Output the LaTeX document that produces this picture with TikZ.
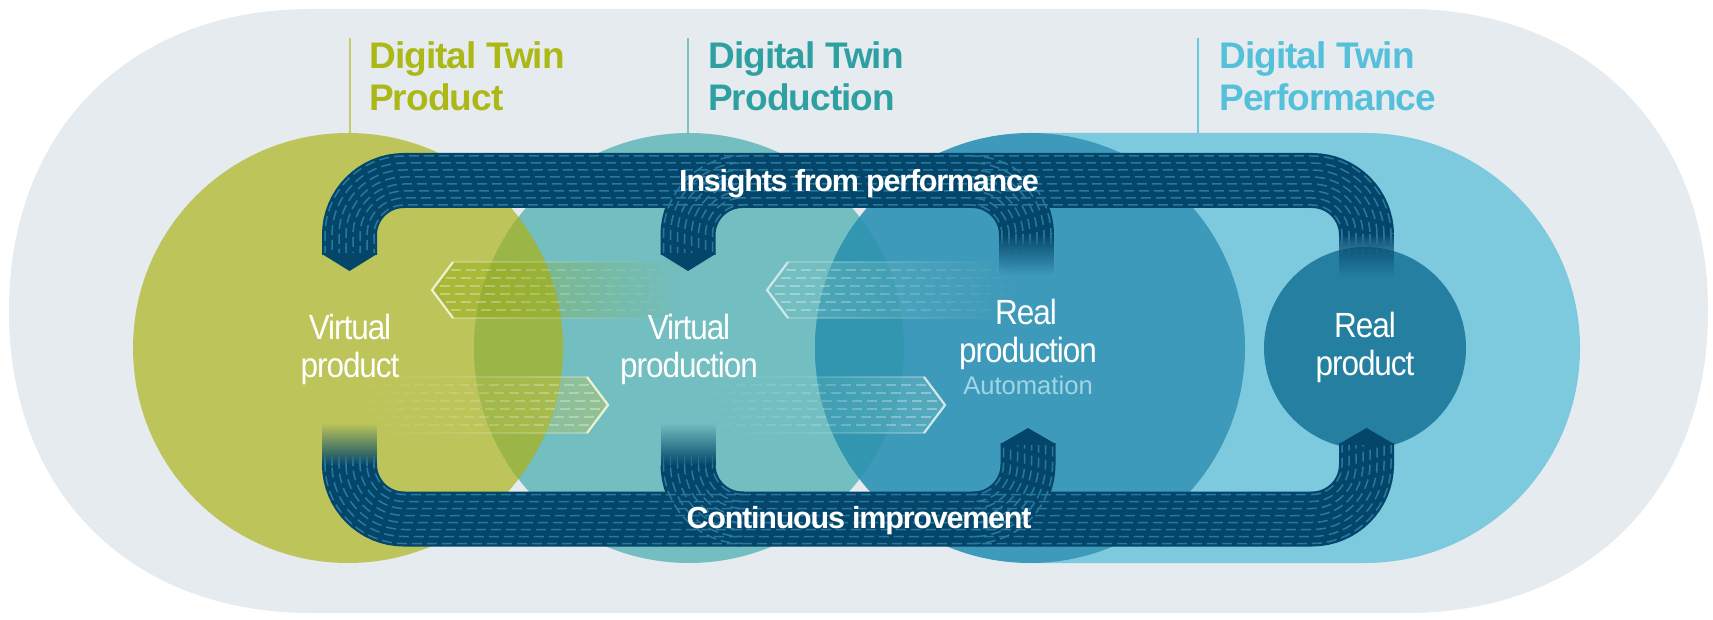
\documentclass[tikz,border=0pt]{standalone}
\usepackage{fontspec}
\setmainfont{Liberation Sans}
\newfontfamily\dtlabelfont{Liberation Sans}[FakeStretch=0.9,LetterSpace=-3]
\newfontfamily\dtautofont{Liberation Sans}
\newfontfamily\dtboldfont{Liberation Sans}[LetterSpace=-4]
\newfontfamily\dttitlefont{Liberation Sans}[LetterSpace=-2.5]
\usetikzlibrary{fadings}
\definecolor{dtbg}{HTML}{E6EBEF}
\definecolor{dtgreen}{HTML}{BDC55A}
\definecolor{dtteal}{HTML}{72BEC0}
\definecolor{dtblue}{HTML}{3E9ABA}
\definecolor{dtlight}{HTML}{7DCADF}
\definecolor{dtreal}{HTML}{257FA1}
\definecolor{dtgt}{HTML}{9BB547}
\definecolor{dttb}{HTML}{3396B0}
\definecolor{dtnavy}{HTML}{04466A}
\definecolor{dtdash}{HTML}{2878A0}
\definecolor{dtprod}{HTML}{ACB816}
\definecolor{dtprodn}{HTML}{2FA0A2}
\definecolor{dtperf}{HTML}{55C0DA}
\definecolor{dtauto}{HTML}{A0D5E5}
\definecolor{dtgreenline}{HTML}{C6CC6B}
\definecolor{dttealline}{HTML}{7CC2C4}
\definecolor{dtperfline}{HTML}{6CC8DD}
\definecolor{dtolive}{HTML}{93AA10}
\tikzfading[name=dtfadeL, left color=transparent!0, right color=transparent!100]
\tikzfading[name=dtfadeR, left color=transparent!100, right color=transparent!0]
\tikzfading[name=dtfadeT, top color=transparent!100, bottom color=transparent!0]
\tikzfading[name=dtfadeB, top color=transparent!0, bottom color=transparent!100]
% left-pointing translucent arrow: tip x, centre y, fill, opacity, outline colour
\newcommand\dtLArrow[5]{%
  \fill[#3, fill opacity=#4, path fading=dtfadeL] (#1,#2) -- ({#1+20},{#2+28}) -- ({#1+250},{#2+28}) -- ({#1+250},{#2-28}) -- ({#1+20},{#2-28}) -- cycle;
  \draw[white, draw opacity=0.35, line width=1.4pt, dash pattern=on 10pt off 5pt, path fading=dtfadeL]
    foreach \o in {-20,-12,-4,4,12,20}{({#1+abs(\o)*0.714+5},{#2+\o}) -- ({#1+250},{#2+\o})};
  \draw[#5, draw opacity=0.35, line width=1.6pt, path fading=dtfadeL] ({#1+20},{#2+28}) -- ({#1+230},{#2+28}) ({#1+20},{#2-28}) -- ({#1+230},{#2-28});
  \draw[#5, line width=2.2pt, line join=miter] ({#1+21},{#2+28}) -- (#1,#2) -- ({#1+21},{#2-28});
}
% right-pointing translucent arrow
\newcommand\dtRArrow[5]{%
  \fill[#3, fill opacity=#4, path fading=dtfadeR] (#1,#2) -- ({#1-20},{#2+28}) -- ({#1-250},{#2+28}) -- ({#1-250},{#2-28}) -- ({#1-20},{#2-28}) -- cycle;
  \draw[white, draw opacity=0.35, line width=1.4pt, dash pattern=on 10pt off 5pt, path fading=dtfadeR]
    foreach \o in {-20,-12,-4,4,12,20}{({#1-abs(\o)*0.714-5},{#2+\o}) -- ({#1-250},{#2+\o})};
  \draw[#5, draw opacity=0.35, line width=1.6pt, path fading=dtfadeR] ({#1-20},{#2+28}) -- ({#1-230},{#2+28}) ({#1-20},{#2-28}) -- ({#1-230},{#2-28});
  \draw[#5, line width=2.2pt, line join=miter] ({#1-21},{#2+28}) -- (#1,#2) -- ({#1-21},{#2-28});
}
\begin{document}
\begin{tikzpicture}[x=1pt,y=1pt,
  dtband/.style={draw=dtnavy, line width=55pt},
  dtrow/.style={draw=dtdash, line width=1.5pt, dash pattern=on 10pt off 5pt},
  dtlab/.style={text=white, font=\dtlabelfont\fontsize{35}{38}\selectfont, anchor=base, inner sep=0pt},
  dtbt/.style={text=white, font=\dtboldfont\bfseries\fontsize{30.5}{33}\selectfont, anchor=base, inner sep=0pt},
  dttitle/.style={font=\dttitlefont\bfseries\fontsize{37}{42}\selectfont, anchor=base west, inner sep=0pt}]
\useasboundingbox (0,0) rectangle (1713,619);
\fill[white] (0,0) rectangle (1713,619);
% background stadium (slightly squarish ends)
\fill[dtbg] (311,6) -- (1406,6) .. controls (1587,6) and (1708,127) .. (1708,308) .. controls (1708,489) and (1587,610) .. (1406,610) -- (311,610) .. controls (130,610) and (9,489) .. (9,308) .. controls (9,127) and (130,6) .. (311,6) -- cycle;
% title rules
\draw[line width=2.5pt, dtgreenline] (350,581) -- (350,470);
\draw[line width=2.5pt, dttealline] (688,581) -- (688,470);
\draw[line width=2.5pt, dtperfline] (1198,581) -- (1198,470);
% performance stadium
\fill[dtlight] (1030,56) -- (1365,56) arc[start angle=-90, end angle=90, radius=215] -- (1030,486) -- cycle;
% circles
\fill[dtgreen] (348,271) circle[radius=215];
\fill[dtteal] (689,271) circle[radius=215];
\fill[dtblue] (1030,271) circle[radius=215];
\begin{scope}
  \clip (348,271) circle[radius=215];
  \fill[dtgt] (689,271) circle[radius=215];
\end{scope}
\begin{scope}
  \clip (689,271) circle[radius=215];
  \fill[dttb] (1030,271) circle[radius=215];
\end{scope}
\fill[dtreal] (1365,271) circle[radius=101];
% titles
\node[dttitle, text=dtprod] (t1a) at (369,550.7) {Digital Twin};
\node[dttitle, text=dtprod] (t1b) at (369,508.3) {Product};
\node[dttitle, text=dtprodn] (t2a) at (708,550.7) {Digital Twin};
\node[dttitle, text=dtprodn] (t2b) at (708,508.3) {Production};
\node[dttitle, text=dtperf] (t3a) at (1219,550.7) {Digital Twin};
\node[dttitle, text=dtperf] (t3b) at (1219,508.3) {Performance};
% translucent arrows
\dtLArrow{432}{329}{dtolive}{0.5}{dtgreen!25!white}
\dtLArrow{767}{329}{dtteal}{0.5}{dtteal!35!white}
\dtRArrow{608}{214}{dtgreen}{0.45}{dtgreen!25!white}
\dtRArrow{945}{214}{dtteal}{0.45}{dtteal!35!white}
% ---- top band: insights from performance ----
\draw[dtband] (349.5,364) -- (349.5,384) arc[start angle=180, end angle=90, radius=54.5] -- (1312,438.5) arc[start angle=90, end angle=0, radius=54.5] -- (1366.5,384);
\fill[dtnavy] (322,365) -- (377,365) -- (349.5,348) -- cycle;
\draw[dtband] (742.5,438.5) arc[start angle=90, end angle=180, radius=54.5] -- (688,364);
\fill[dtnavy] (660.5,365) -- (715.5,365) -- (688,348) -- cycle;
\draw[dtband] (972,438.5) arc[start angle=90, end angle=0, radius=54.5];
\fill[dtnavy, path fading=dtfadeB] (999,344) rectangle (1054,385);
\fill[dtnavy, path fading=dtfadeB] (1339,342) rectangle (1394,385);
% ---- bottom band: continuous improvement ----
\draw[dtband] (349.5,154.5) arc[start angle=180, end angle=270, radius=54.5] -- (1312,100) arc[start angle=270, end angle=360, radius=54.5] -- (1366.5,176);
\fill[dtnavy] (1339,175) -- (1394,175) -- (1366.5,191) -- cycle;
\draw[dtband] (688,154.5) arc[start angle=180, end angle=270, radius=54.5];
\draw[dtband] (973.5,100) arc[start angle=270, end angle=360, radius=54.5] -- (1028,176);
\fill[dtnavy] (1000.5,175) -- (1055.5,175) -- (1028,191) -- cycle;
\fill[dtnavy, path fading=dtfadeT] (322,153.5) rectangle (377,196);
\fill[dtnavy, path fading=dtfadeT] (660.5,153.5) rectangle (715.5,196);
% dash rows
\foreach \o [count=\i] in {-24.5,-17.5,-10.5,-3.5,3.5,10.5,17.5,24.5}{
  \pgfmathsetmacro\ph{mod(\i*6,15)}
  \pgfmathsetmacro\rr{54.5+\o}
  \draw[dtrow, dash phase=\ph pt] ({349.5-\o},366) -- ({349.5-\o},384) arc[start angle=180, end angle=90, radius=\rr] -- (1312,{438.5+\o}) arc[start angle=90, end angle=0, radius=\rr];
  \draw[dtrow, dash phase=\ph pt] (742.5,{438.5+\o}) arc[start angle=90, end angle=180, radius=\rr] -- ({688-\o},366);
  \draw[dtrow, dash phase=\ph pt] (972,{438.5+\o}) arc[start angle=90, end angle=0, radius=\rr];
  \draw[dtrow, dash phase=\ph pt] ({349.5-\o},154.5) arc[start angle=180, end angle=270, radius=\rr] -- (1312,{100-\o}) arc[start angle=270, end angle=360, radius=\rr] -- ({1366.5+\o},174);
  \draw[dtrow, dash phase=\ph pt] ({688-\o},154.5) arc[start angle=180, end angle=270, radius=\rr];
  \draw[dtrow, dash phase=\ph pt] (973.5,{100-\o}) arc[start angle=270, end angle=360, radius=\rr] -- ({1028+\o},174);
}
% faded dash rows at the start of the fading pipe ends
\draw[dtrow, path fading=dtfadeB] foreach \o in {-24.5,-17.5,-10.5,-3.5,3.5,10.5,17.5,24.5}{({1026.5+\o},385) -- ({1026.5+\o},366)};
\draw[dtrow, path fading=dtfadeB] foreach \o in {-24.5,-17.5,-10.5,-3.5,3.5,10.5,17.5,24.5}{({1366.5+\o},385) -- ({1366.5+\o},364)};
\draw[dtrow, path fading=dtfadeT] foreach \o in {-24.5,-17.5,-10.5,-3.5,3.5,10.5,17.5,24.5}{({349.5-\o},153.5) -- ({349.5-\o},173)};
\draw[dtrow, path fading=dtfadeT] foreach \o in {-24.5,-17.5,-10.5,-3.5,3.5,10.5,17.5,24.5}{({688-\o},153.5) -- ({688-\o},173)};
% band texts
\node[dtbt] (ins) at (859,427.3) {Insights from performance};
\node[dtbt] (ci) at (859,90.7) {Continuous improvement};
% circle labels
\node[dtlab] (vp1) at (350,279) {Virtual};
\node[dtlab] (vp2) at (350,241) {product};
\node[dtlab] (vn1) at (689,279) {Virtual};
\node[dtlab] (vn2) at (689,241) {production};
\node[dtlab] (rp1) at (1026,294) {Real};
\node[dtlab] (rp2) at (1028,256) {production};
\node[dtlab, text=dtauto, font=\dtautofont\fontsize{25.6}{28}\selectfont] (rp3) at (1028,224) {Automation};
\node[dtlab] (rr1) at (1365,281) {Real};
\node[dtlab] (rr2) at (1365,243) {product};
\end{tikzpicture}
\end{document}
